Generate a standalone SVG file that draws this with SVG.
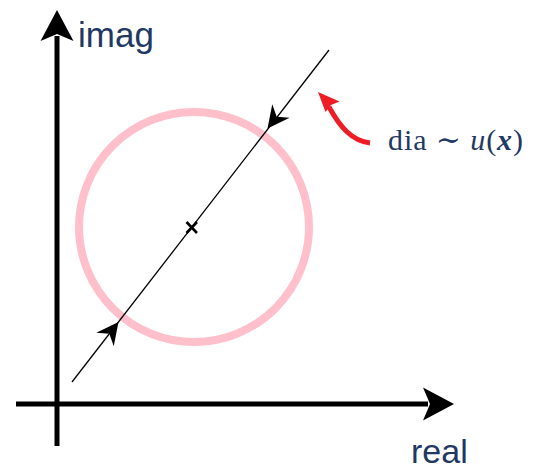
<svg xmlns="http://www.w3.org/2000/svg" width="537" height="469" viewBox="0 0 537 469">
<style>
.axis{stroke:#000;stroke-width:5;fill:none}
.lbl{font-family:"Liberation Sans",Arial,sans-serif;fill:#1f3864}
.math{font-family:"Liberation Serif","DejaVu Serif",serif;fill:#1f3864;font-size:30px}
.head{fill:#000}
</style>
<defs>
<polygon id="bighead" points="0,0 -31,-16.5 -24,0 -31,16.5"/>
<polygon id="smallhead" points="0,0 -22,-11 -15,0 -22,11"/>
</defs>
<rect width="537" height="469" fill="#fff"/>
<g id="circle">
<circle cx="194" cy="227" r="115" fill="none" stroke="#ffc0cb" stroke-width="8"/>
</g>
<g id="connectors">
<line class="axis" x1="57" y1="446" x2="57" y2="36"/>
<use href="#bighead" class="head" transform="translate(57,10) rotate(-90)"/>
<line class="axis" x1="16" y1="404" x2="428" y2="404"/>
<use href="#bighead" class="head" transform="translate(454,404)"/>
<line x1="72" y1="382" x2="329" y2="50" stroke="#000" stroke-width="1.3"/>
<use href="#smallhead" class="head" transform="translate(118.5,322) rotate(-52.3)"/>
<use href="#smallhead" class="head" transform="translate(267.5,128.5) rotate(127.7)"/>
<path d="M370,143 C352,141 340,127 329,107" fill="none" stroke="#ee1c25" stroke-width="5"/>
<polygon points="318,92 339.5,101.5 331,105 325.5,112" fill="#ee1c25"/>
</g>
<g id="center">
<path d="M186.5,222 L197,233 M197,222 L186.5,233" stroke="#000" stroke-width="2.6"/>
</g>
<g id="labels">
<text class="lbl" x="78" y="47" font-size="35">imag</text>
<text class="lbl" x="411" y="463" font-size="34">real</text>
<text class="math" x="388" y="150" textLength="135" lengthAdjust="spacing">dia ∼ <tspan font-style="italic">u</tspan>(<tspan font-style="italic" font-weight="bold">x</tspan>)</text>
</g>
</svg>
